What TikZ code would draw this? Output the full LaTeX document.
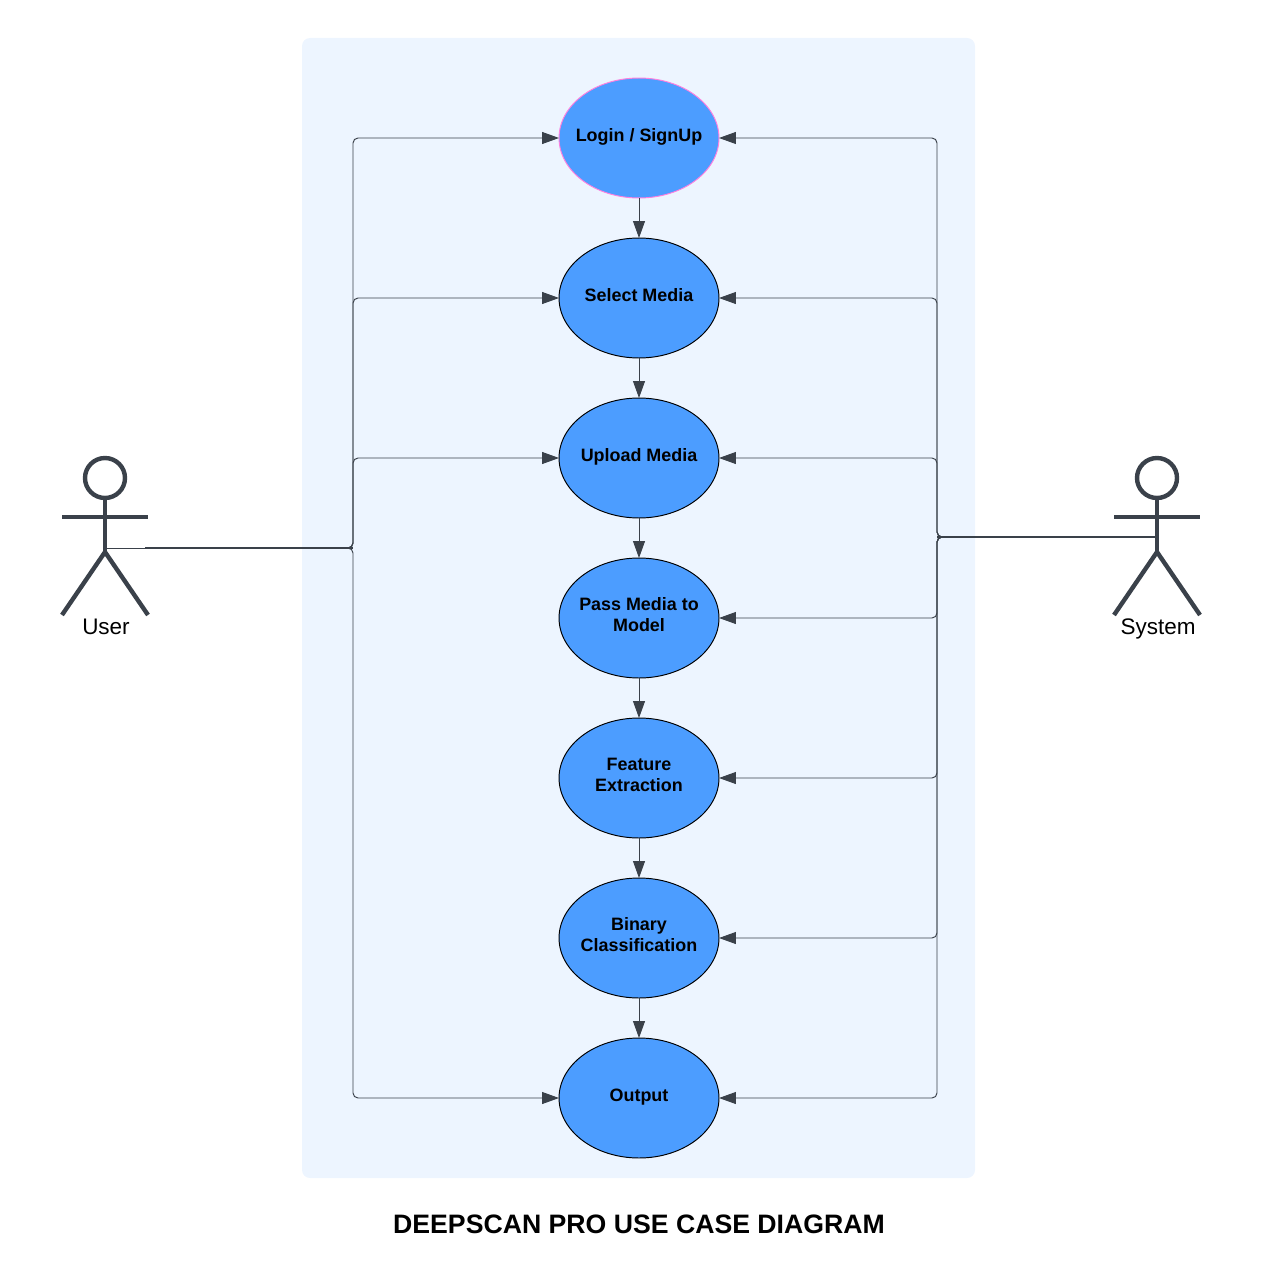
\documentclass[tikz,border=0pt]{standalone}
\usepackage{fontspec}
\setmainfont{Liberation Sans}
\usetikzlibrary{arrows.meta,shapes.geometric}
\definecolor{panelblue}{HTML}{EDF5FF}
\definecolor{casefill}{HTML}{4C9DFF}
\definecolor{edgegrey}{HTML}{3A414A}
\definecolor{loginpink}{HTML}{FF80DF}
\tikzset{
  usecase/.style={ellipse,draw=black,line width=0.55pt,fill=casefill,minimum width=3.2cm,minimum height=2.4cm,
    inner xsep=-2cm,inner ysep=-1cm,outer sep=0pt,align=center,font=\fontsize{10.2}{12}\selectfont\bfseries},
  oneline/.style={text height=8.1pt,text depth=3.6pt},
  twoline/.style={text height=18.6pt,text depth=3.2pt},
  flow/.style={draw=edgegrey,line width=0.55pt,rounded corners=0.1cm,-{Triangle[length=0.34cm,width=0.24cm]}},
  bus/.style={draw=edgegrey,line width=1pt},
  actor/.style={draw=edgegrey,line width=2.5pt},
  actorname/.style={font=\fontsize{12.8}{15}\selectfont,inner sep=0pt,anchor=base}
}
\begin{document}
\begin{tikzpicture}[x=0.02cm,y=-0.02cm]
  \useasboundingbox (0,0) rectangle (1262,1284);
  \fill [panelblue,rounded corners=0.16cm] (302,38) rectangle (975,1178);
  % use cases
  \node [usecase,oneline,draw=loginpink] (login) at (639,138) {Login / SignUp};
  \node [usecase,oneline] (select) at (639,298) {Select Media};
  \node [usecase,oneline] (upload) at (639,458) {Upload Media};
  \node [usecase,twoline] (pass) at (639,618) {Pass Media to\\Model};
  \node [usecase,twoline] (feature) at (639,778) {Feature\\Extraction};
  \node [usecase,twoline] (binary) at (639,938) {Binary\\Classification};
  \node [usecase,oneline] (output) at (639,1098) {Output};
  \draw [flow] (login) -- (select);
  \draw [flow] (select) -- (upload);
  \draw [flow] (upload) -- (pass);
  \draw [flow] (pass) -- (feature);
  \draw [flow] (feature) -- (binary);
  \draw [flow] (binary) -- (output);
  % user
  \draw [actor] (105,478) circle (0.4cm);
  \draw [actor] (105,498)--(105,552);
  \draw [actor] (62,517)--(148,517);
  \draw [actor] (62,615)--(105,552)--(148,615);
  \node [actorname] (username) at (106,634) {User};
  \coordinate (userhip) at (105,548);
  \coordinate (userstart) at (145,548);
  \coordinate (userbus) at (353,548);
  \draw [draw=edgegrey,line width=0.55pt] (userhip)--(userstart);
  \draw [bus] (userstart)--(userbus);
  \draw [flow] (userstart)--(userbus) |- (login.west);
  \draw [flow] (userstart)--(userbus) |- (select.west);
  \draw [flow] (userstart)--(userbus) |- (upload.west);
  \draw [flow] (userstart)--(userbus) |- (output.west);
  % system
  \draw [actor] (1157,478) circle (0.4cm);
  \draw [actor] (1157,498)--(1157,552);
  \draw [actor] (1114,517)--(1200,517);
  \draw [actor] (1114,615)--(1157,552)--(1200,615);
  \node [actorname] (systemname) at (1158,634) {System};
  \coordinate (systemhip) at (1157,537);
  \coordinate (systembus) at (937,537);
  \draw [bus] (systemhip)--(systembus);
  \draw [flow] (systemhip)--(systembus) |- (login.east);
  \draw [flow] (systemhip)--(systembus) |- (select.east);
  \draw [flow] (systemhip)--(systembus) |- (upload.east);
  \draw [flow] (systemhip)--(systembus) |- (pass.east);
  \draw [flow] (systemhip)--(systembus) |- (feature.east);
  \draw [flow] (systemhip)--(systembus) |- (binary.east);
  \draw [flow] (systemhip)--(systembus) |- (output.east);
  \node [font=\fontsize{15.17}{18}\selectfont\bfseries,inner sep=0pt] (title) at (639,1224.5) {DEEPSCAN PRO USE CASE DIAGRAM};
\end{tikzpicture}
\end{document}
